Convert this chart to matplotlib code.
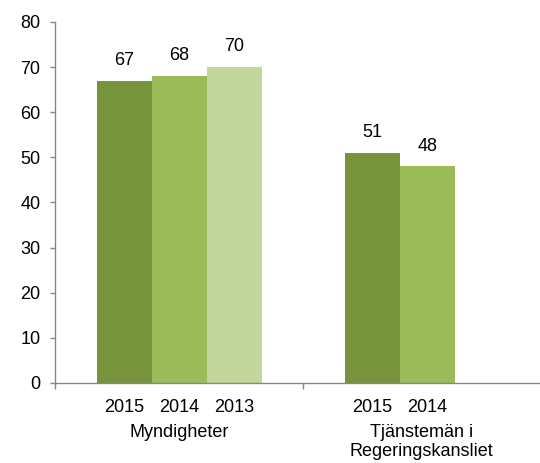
import numpy as np
import matplotlib
matplotlib.use('Agg')
import matplotlib.pyplot as plt
import matplotlib.transforms as mtransforms

plt.rcParams['font.family'] = ['Liberation Sans', 'DejaVu Sans']

categories = ['Myndigheter', 'Tjänstemän i\nRegeringskansliet']
years = ['2015', '2014', '2013']
values = {
    '2015': [67, 51],
    '2014': [68, 48],
    '2013': [70, None],
}
colors = {'2015': '#77933C', '2014': '#9BBB59', '2013': '#C3D69B'}

fs = 13

fig = plt.figure(figsize=(5.4, 4.63), dpi=100)
ax = fig.add_axes([0.1019, 0.1728, 0.8981, 0.7797])

bar_w = 0.2218
first_left = 0.169
x_max = 1.956
trans = mtransforms.blended_transform_factory(ax.transData, ax.transAxes)

for j, yr in enumerate(years):
    for i, v in enumerate(values[yr]):
        if v is None:
            continue
        left = i + first_left + j * bar_w
        ax.bar(left, v, width=bar_w, align='edge', color=colors[yr], lw=0)
        ax.text(left + bar_w / 2, v + 3.5, str(v), ha='center', va='baseline', fontsize=fs)
        # year label under the bar
        ax.text(left + bar_w / 2, -0.0803, yr, ha='center', va='baseline',
                fontsize=fs, transform=trans)

# category labels centred on the visible part of each category, one line at a time
line_step = 19 / 361
for i, cat in enumerate(categories):
    center = (i + min(i + 1, x_max)) / 2
    for k, line in enumerate(cat.split('\n')):
        ax.text(center, -0.1496 - k * line_step, line, ha='center', va='baseline',
                fontsize=fs, transform=trans)

ax.set_ylim(0, 80)
ax.set_yticks(range(0, 81, 10))
ax.set_xlim(0, x_max)
ax.set_xticks([0, 1])
ax.set_xticklabels([])

for s in ['top', 'right']:
    ax.spines[s].set_visible(False)
for s in ['left', 'bottom']:
    ax.spines[s].set_color('#868686')
    ax.spines[s].set_linewidth(1.0)

ax.tick_params(axis='y', length=3.6, width=1, color='#868686', labelsize=fs, pad=7)
ax.tick_params(axis='x', length=4.5, width=1, color='#868686')

plt.savefig('out.png')
